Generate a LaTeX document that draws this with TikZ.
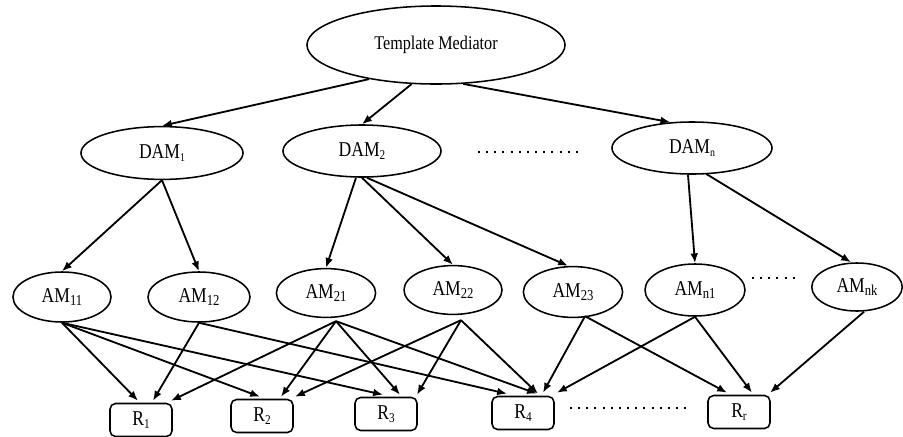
\documentclass[tikz,border=0pt]{standalone}
\usepackage{fontspec}
\usepackage{graphicx}
\setmainfont{Liberation Serif}
\usetikzlibrary{shapes.geometric,arrows.meta,calc}

% tall, narrow lettering and low, small indices
\newcommand\tallt[1]{\scalebox{1}[1.2]{#1}}
\newcommand\lsub[2]{\raisebox{-0.35ex}{\fontsize{#1}{#1}\selectfont #2}}

\begin{document}
\begin{tikzpicture}[x=0.025cm,y=-0.025cm,
  oval/.style={ellipse,draw,line width=1.1pt,inner sep=0pt},
  rbox/.style={rectangle,draw,line width=1.1pt,rounded corners=4pt,
               minimum width=1.55cm,minimum height=0.825cm,inner sep=0pt},
  arr/.style={line width=1.3pt,-{Latex[length=7pt,width=5.5pt]}},
  dotrow/.style={line width=1.6pt,dash pattern=on 1.4pt off 4.4pt},
  lbl/.style={font=\fontsize{12.5}{14}\selectfont}
]
\useasboundingbox (0,0) rectangle (903,436);

% top mediator
\node[oval,minimum width=6.45cm,minimum height=1.95cm,
      font=\fontsize{11.5}{13}\selectfont] (tm) at (436,45) {\tallt{Template Mediator}};

% domain access mediators
\node[oval,lbl,minimum width=4.05cm,minimum height=1.32cm] (d1) at (162,153) {\tallt{DAM\lsub{7}{1}}};
\node[oval,lbl,minimum width=3.95cm,minimum height=1.3cm] (d2) at (362,151) {\tallt{DAM\lsub{8}{2}}};
\node[oval,lbl,minimum width=4.0cm,minimum height=1.3cm] (dn) at (692,148) {\tallt{DAM\lsub{7}{n}}};
\draw[dotrow] (478,152) -- (582,152);

% access mediators
\node[oval,lbl,minimum width=2.45cm,minimum height=1.25cm] (a11) at (62,297) {\tallt{AM\lsub{9}{11}}};
\node[oval,lbl,minimum width=2.55cm,minimum height=1.25cm] (a12) at (199,297) {\tallt{AM\lsub{9}{12}}};
\node[oval,lbl,minimum width=2.48cm,minimum height=1.22cm] (a21) at (326,293) {\tallt{AM\lsub{9}{21}}};
\node[oval,lbl,minimum width=2.45cm,minimum height=1.22cm] (a22) at (453,290) {\tallt{AM\lsub{9}{22}}};
\node[oval,lbl,minimum width=2.48cm,minimum height=1.27cm] (a23) at (573,292) {\tallt{AM\lsub{9}{23}}};
\node[oval,lbl,minimum width=2.5cm,minimum height=1.3cm] (an1) at (695,290) {\tallt{AM\lsub{9}{n1}}};
\node[oval,lbl,minimum width=2.26cm,minimum height=1.2cm] (ank) at (857,287) {\tallt{AM\lsub{9}{nk}}};
\draw[dotrow] (752,278) -- (795,278);

% resources
\node[rbox,lbl] (r1) at (141,420) {\tallt{R\lsub{8}{1}}};
\node[rbox,lbl] (r2) at (262,416) {\tallt{R\lsub{8}{2}}};
\node[rbox,lbl] (r3) at (386,414) {\tallt{R\lsub{8}{3}}};
\node[rbox,lbl] (r4) at (523,413) {\tallt{R\lsub{8}{4}}};
\node[rbox,lbl] (rr) at (739,412) {\tallt{R\lsub{8}{r}}};
\draw[dotrow] (570,408) -- (692,408);

% mediator -> domain mediators
\draw[arr] (tm.207) -- (d1.north);
\draw[arr] (tm.238) -- (d2.north);
\draw[arr] (tm.305) -- (dn.130);

% domain mediators -> access mediators
\draw[arr] (d1.south) -- (a11.north);
\draw[arr] (d1.south) -- (a12.north);
\draw[arr] ($(d2.south)+(-6,0)$) -- (a21.north);
\draw[arr] (d2.south) -- (a22.north);
\draw[arr] ($(d2.south)+(5,0)$) -- ($(a23.north)+(-5,0)$);
\draw[arr] ($(dn.south)+(-4,0)$) -- (an1.north);
\draw[arr] ($(dn.south)+(14,-1)$) -- ($(ank.north)+(-6,0)$);

% access mediators -> resources
\draw[arr] (a11.south) -- ($(r1.north)+(-3,-2)$);
\draw[arr] (a11.south) -- ($(r2.north)+(-2,-2)$);
\draw[arr] (a11.south) -- ($(r3.north)+(-3,-2)$);

\draw[arr] (a12.south) -- ($(r1.north)+(12,-2)$);
\draw[arr] (a12.south) -- ($(r4.north)+(-16,-2)$);

\draw[arr] ($(a21.south)+(10,3)$) -- ($(r1.north)+(30,-2)$);
\draw[arr] ($(a21.south)+(10,3)$) -- ($(r2.north)+(19,-2)$);
\draw[arr] ($(a21.south)+(10,3)$) -- ($(r3.north)+(14,-2)$);
\draw[arr] ($(a21.south)+(10,3)$) -- ($(r4.north)+(14,-2)$);

\draw[arr] ($(a22.south)+(8,5)$) -- ($(r2.north)+(33,-2)$);
\draw[arr] ($(a22.south)+(8,5)$) -- ($(r3.north)+(31,-2)$);
\draw[arr] ($(a22.south)+(8,5)$) -- ($(r4.north)+(15,-2)$);

\draw[arr] ($(a23.south)+(12,-2)$) -- ($(r4.north)+(20,-3)$);
\draw[arr] ($(a23.south)+(12,-2)$) -- ($(rr.north)+(-12,-2)$);

\draw[arr] (an1.south) -- ($(r4.north)+(34,-3)$);
\draw[arr] (an1.south) -- ($(rr.north)+(13,-2)$);

\draw[arr] ($(ank.south)+(7,0)$) -- ($(rr.north)+(31,-2)$);
\end{tikzpicture}
\end{document}
